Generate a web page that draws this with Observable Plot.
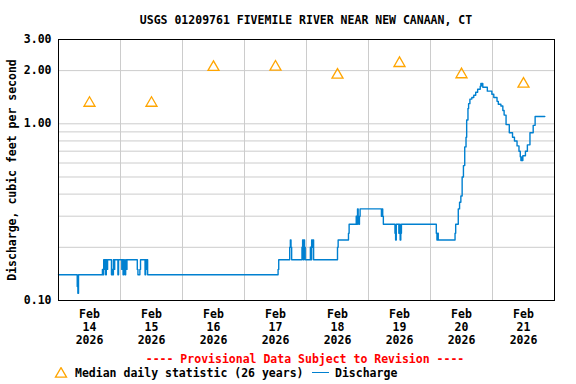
<!DOCTYPE html>
<html>
<head>
<meta charset="utf-8">
<script src="https://cdn.jsdelivr.net/npm/d3@7"></script>
<script src="https://cdn.jsdelivr.net/npm/@observablehq/plot@0.6"></script>
<style>
  html, body { margin: 0; padding: 0; background: #fff; }
  #wrap { position: relative; width: 576px; height: 384px; overflow: hidden;
          font-family: "DejaVu Sans Mono", monospace; font-weight: bold; font-size: 11.5px; color: #000; }
  #wrap svg { position: absolute; left: 0; top: 0; }
  .abs { position: absolute; white-space: nowrap; line-height: 14px; }
</style>
</head>
<body>
<div id="wrap"></div>
<script>
// ---- data ----
const titleText = "USGS 01209761 FIVEMILE RIVER NEAR NEW CANAAN, CT";
const yLabelText = "Discharge, cubic feet per second";
const captionText = "---- Provisional Data Subject to Revision ----";
const medianLegend = "Median daily statistic (26 years)";
const dischargeLegend = "Discharge";

// hours since 2026-02-14 00:00 at which the discharge value changes
const dischargeHours = [
  0, 7.25, 7.5, 7.75,
  17.0, 17.25, 17.5, 17.75, 18.0, 18.25, 18.5, 18.75, 19.0,
  20.5, 20.75, 21.0, 21.25, 21.5, 21.75,
  23.0, 23.25,
  24.5, 24.75, 25.0, 25.25, 25.5, 25.75, 26.0, 26.25, 26.5,
  30.5, 30.75, 31.5, 31.75,
  33.5, 33.75, 34.0, 34.25, 34.5,
  85.0, 85.25,
  89.5, 89.75, 90.0, 90.25,
  94.25, 94.5, 94.75, 95.0, 95.25, 95.5,
  97.5, 97.75, 98.0, 98.25, 98.5, 98.75,
  108.0, 108.25,
  112.25, 112.5,
  115.25, 115.5, 115.75, 116.0, 116.25, 116.5, 116.75,
  125.0, 125.25, 125.5, 125.75,
  130.25, 130.5, 130.75,
  131.75, 132.0, 132.25, 132.5, 132.75,
  146.25, 146.5, 146.75, 147.0,
  153.5, 153.75,
  154.75, 155.25, 155.75, 156.25, 156.75, 157.25, 157.75, 158.0, 158.5, 158.75, 159.25,
  160.0, 160.75, 161.5, 162.25, 163.25, 163.5, 163.75, 164.0, 164.25,
  166.0, 167.75, 168.5, 169.75, 170.25, 171.25, 172.0, 172.5, 173.25, 174.5, 175.75,
  176.5, 177.5, 178.25, 178.75, 179.0, 179.25, 179.5, 179.75, 180.75, 181.5, 182.5,
  183.75, 184.5, 188.25
];
const dischargeValues = [
  0.14, 0.12, 0.11, 0.14,
  0.15, 0.14, 0.17, 0.15, 0.17, 0.14, 0.17, 0.15, 0.17,
  0.14, 0.15, 0.14, 0.17, 0.15, 0.17,
  0.14, 0.17,
  0.15, 0.17, 0.14, 0.17, 0.15, 0.14, 0.17, 0.15, 0.17,
  0.15, 0.14, 0.15, 0.17,
  0.14, 0.17, 0.15, 0.17, 0.14,
  0.15, 0.17,
  0.20, 0.22, 0.20, 0.17,
  0.20, 0.22, 0.17, 0.22, 0.20, 0.17,
  0.20, 0.17, 0.22, 0.20, 0.22, 0.17,
  0.20, 0.22,
  0.24, 0.27,
  0.30, 0.27, 0.33, 0.30, 0.27, 0.30, 0.33,
  0.30, 0.33, 0.30, 0.27,
  0.24, 0.22, 0.27,
  0.24, 0.27, 0.22, 0.24, 0.27,
  0.24, 0.22, 0.24, 0.22,
  0.24, 0.27,
  0.33, 0.36, 0.39, 0.50, 0.58, 0.74, 0.84, 1.05, 1.22, 1.30, 1.38,
  1.41, 1.45, 1.51, 1.57, 1.63, 1.69, 1.64, 1.69, 1.61,
  1.53, 1.47, 1.41, 1.34, 1.29, 1.26, 1.19, 1.12, 0.99, 0.89, 0.84,
  0.80, 0.75, 0.70, 0.65, 0.62, 0.65, 0.62, 0.66, 0.70, 0.76, 0.89,
  0.98, 1.10, 1.10
];

// median daily statistic, plotted at noon of each day of Feb 2026
const medianDays = [14, 15, 16, 17, 18, 19, 20, 21];
const medianValues = [1.31, 1.31, 2.09, 2.10, 1.89, 2.20, 1.90, 1.68];

// axis ticks
const tickDays = [14, 15, 16, 17, 18, 19, 20, 21];
const tickMonth = "Feb";
const tickYear = "2026";
const gridDays = [15, 16, 17, 18, 19, 20, 21];
const yTickValues = [0.1, 1, 2, 3];
const yGridValues = [0.2, 0.3, 0.4, 0.5, 0.6, 0.7, 0.8, 0.9, 1, 2];

// ---- build ----
const H = 3600e3;
const t0 = Date.UTC(2026, 1, 14);
const discharge = dischargeHours.map((h, i) => ({t: new Date(t0 + h * H), v: dischargeValues[i]}));
const median = medianDays.map((d, i) => ({t: new Date(Date.UTC(2026, 1, d, 12)), v: medianValues[i]}));
const tickDates = tickDays.map(d => new Date(Date.UTC(2026, 1, d, 12)));
const gridDates = gridDays.map(d => new Date(Date.UTC(2026, 1, d)));

const blue = "#0080d0";
const orange = "#ffa500";
const grid = "#cccccc";

const chart = Plot.plot({
  width: 576,
  height: 350,
  marginTop: 39,
  marginLeft: 58,
  marginRight: 22,
  marginBottom: 50,
  style: {fontFamily: "DejaVu Sans Mono, monospace", fontWeight: "bold", fontSize: "11.5px", background: "transparent", color: "#000"},
  x: {type: "utc", domain: [new Date(t0), new Date(Date.UTC(2026, 1, 22))]},
  y: {type: "log", domain: [0.1, 3]},
  marks: [
    Plot.gridY(yGridValues, {stroke: grid, strokeOpacity: 1, strokeWidth: 1}),
    Plot.gridX(gridDates, {stroke: grid, strokeOpacity: 1, strokeWidth: 1}),
    Plot.axisY(yTickValues, {tickSize: 0, tickPadding: 7, tickFormat: d => d.toFixed(2), label: null}),
    Plot.axisX(tickDates, {
      tickSize: 0, tickPadding: 8, lineHeight: 1.13, label: null,
      tickFormat: d => `${tickMonth}\n${d.getUTCDate()}\n${tickYear}`
    }),
    Plot.line(discharge, {x: "t", y: "v", curve: "step-after", stroke: blue, strokeWidth: 1.4}),
    Plot.dot(median, {x: "t", y: "v", symbol: "triangle", r: 4.1, stroke: orange, fill: "none", strokeWidth: 1.3}),
    Plot.frame({stroke: "#000", strokeWidth: 1})
  ]
});

const wrap = document.getElementById("wrap");
wrap.appendChild(chart);

function addText(txt, css) {
  const d = document.createElement("div");
  d.className = "abs";
  d.textContent = txt;
  Object.assign(d.style, css);
  wrap.appendChild(d);
  return d;
}
// title, centred on the plot frame
addText(titleText, {left: "306px", top: "13px", transform: "translateX(-50%)"});
// rotated y label
addText(yLabelText, {left: "12px", top: "170px", transform: "translate(-50%, -50%) rotate(-90deg)"});
// provisional caption
addText(captionText, {left: "305px", top: "352px", transform: "translateX(-50%)", color: "#ff0000"});
// legend
const legY = 366;
const tri = document.createElementNS("http://www.w3.org/2000/svg", "svg");
tri.setAttribute("width", "14"); tri.setAttribute("height", "12");
tri.style.position = "absolute"; tri.style.left = "54px"; tri.style.top = (legY + 1) + "px";
tri.innerHTML = `<path d="${d3.symbol(d3.symbolTriangle, 4.1 * 4.1 * Math.PI)()}" transform="translate(7,7)" fill="none" stroke="${orange}" stroke-width="1.3"/>`;
wrap.appendChild(tri);
addText(medianLegend, {left: "75px", top: legY + "px"});
const ln = document.createElement("div");
Object.assign(ln.style, {position: "absolute", left: "312px", top: (legY + 6) + "px", width: "17px", height: "0", borderTop: `1.5px solid ${blue}`});
wrap.appendChild(ln);
addText(dischargeLegend, {left: "335px", top: legY + "px"});
</script>
</body>
</html>
